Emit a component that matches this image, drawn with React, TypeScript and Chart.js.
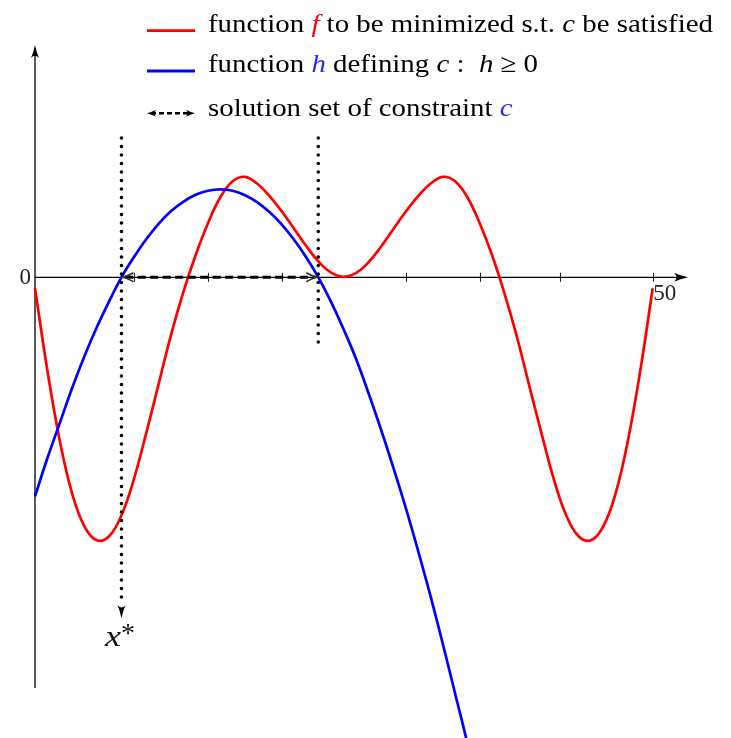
import { useEffect, useRef } from "react";
import { Chart, registerables } from "chart.js";

Chart.register(...registerables);

// f: objective to be minimized
const fX = [0, 1, 2, 3, 4, 5, 6, 7, 8, 9, 10, 11, 12, 13, 14, 15, 16, 17, 18, 19, 20, 21, 22, 23, 24, 25,
  26, 27, 28, 29, 30, 31, 32, 33, 34, 35, 36, 37, 38, 39, 40, 41, 42, 43, 44, 45, 46, 47, 48, 49, 50];
const fY = [-1.1, -9.3, -16.3, -21.6, -24.9, -26.3, -25.9, -23.8, -20.2, -15.6, -10.7, -5.8, -1.5, 2.2, 5.4, 8.0, 9.6, 10.05, 9.35, 8.1, 6.55, 4.8, 3.05, 1.5, 0.45, 0.05,
  0.45, 1.5, 3.05, 4.8, 6.55, 8.1, 9.35, 10.05, 9.6, 8.0, 5.4, 2.2, -1.6, -5.9, -10.8, -15.6, -20.2, -23.8, -25.9, -26.3, -24.9, -21.6, -16.3, -9.3, -1.1];

// h: constraint function, c is satisfied where h >= 0
const hX = [0, 1, 2, 3, 4, 5, 6, 7, 8, 9, 10, 11, 12, 13, 14, 15, 16, 17, 18, 19, 20, 21, 22, 23, 24, 25, 26, 27, 28, 29, 30, 31, 32, 33, 34, 35, 36];
const hY = [-21.9, -18.1, -14.6, -11.1, -7.9, -5.0, -2.4, 0, 2.0, 3.8, 5.35, 6.6, 7.55, 8.25, 8.65, 8.8, 8.65, 8.2, 7.5, 6.5, 5.25, 3.7, 1.9, -0.15, -2.55, -5.25, -8.2, -11.6, -15.2, -19.0, -23.0, -27.3, -31.8, -36.6, -41.6, -46.6, -52.0];

// feasible interval [lo, hi] and the constrained minimizer x*
const solutionSet = [7.0, 22.93];
const xStar = 7.0;

// axis decorations
const xTicks = [8, 14, 20, 30, 36, 42.5, 50];
const xTickLabel = "50";
const xTickLabelAt = 50;
const yZeroLabel = "0";

// view window in data units
const X_MIN = -2.833;
const X_MAX = 56.338;
const Y_MIN = -46.07;
const Y_MAX = 27.73;
const X_AXIS_END = 52.86;
const Y_AXIS_TOP = 23.23;
const Y_AXIS_BOTTOM = -41.07;
const DOT_TOP = 13.93;
const DOT_LEFT_END = -32.4;
const DOT_LEFT_TIP = -34.1;
const DOT_RIGHT_END = -6.6;

const RED = "#ff0000";
const BLUE = "#0000ff";
const TEXT_BLUE = "#2a2aff";
const SERIF = '"Liberation Serif", "Times New Roman", serif';

type Seg = { t: string; it?: boolean; c?: string };

function stealth(ctx: CanvasRenderingContext2D, x: number, y: number, ang: number, len: number, half: number, color: string) {
  ctx.save();
  ctx.translate(x, y);
  ctx.rotate(ang);
  ctx.beginPath();
  ctx.moveTo(0, 0);
  ctx.quadraticCurveTo(-len * 0.55, -half * 0.35, -len, -half);
  ctx.quadraticCurveTo(-len * 0.65, 0, -len, half);
  ctx.quadraticCurveTo(-len * 0.55, half * 0.35, 0, 0);
  ctx.closePath();
  ctx.fillStyle = color;
  ctx.fill();
  ctx.restore();
}

function chevron(ctx: CanvasRenderingContext2D, x: number, y: number, ang: number, len: number, half: number, color: string, w: number) {
  ctx.save();
  ctx.translate(x, y);
  ctx.rotate(ang);
  ctx.beginPath();
  ctx.moveTo(-len, -half);
  ctx.quadraticCurveTo(-len * 0.4, -half * 0.2, 0, 0);
  ctx.quadraticCurveTo(-len * 0.4, half * 0.2, -len, half);
  ctx.strokeStyle = color;
  ctx.lineWidth = w;
  ctx.stroke();
  ctx.restore();
}

function richText(ctx: CanvasRenderingContext2D, x: number, baseline: number, segs: Seg[], size: number, sx: number) {
  ctx.save();
  ctx.translate(x, baseline);
  ctx.scale(sx, 1);
  ctx.textBaseline = "alphabetic";
  ctx.textAlign = "left";
  let cx = 0;
  for (const s of segs) {
    ctx.font = `${s.it ? "italic " : ""}${size}px ${SERIF}`;
    ctx.fillStyle = s.c || "#000";
    ctx.fillText(s.t, cx, 0);
    cx += ctx.measureText(s.t).width;
  }
  ctx.restore();
}

const legendRows: { seg: Seg[]; base: number; mark: number; kind: string }[] = [
  {
    seg: [{ t: "function " }, { t: "f", it: true, c: RED }, { t: " to be minimized s.t. " }, { t: "c", it: true }, { t: " be satisfied" }],
    base: 32, mark: 30.7, kind: "f",
  },
  {
    seg: [{ t: "function " }, { t: "h", it: true, c: TEXT_BLUE }, { t: " defining " }, { t: "c", it: true }, { t: " :  " }, { t: "h", it: true }, { t: " \u2265 0" }],
    base: 72, mark: 71, kind: "h",
  },
  {
    seg: [{ t: "solution set of constraint " }, { t: "c", it: true, c: TEXT_BLUE }],
    base: 116, mark: 113.3, kind: "set",
  },
];

const decor = {
  id: "decor",
  beforeDatasetsDraw(chart: any) {
    const ctx: CanvasRenderingContext2D = chart.ctx;
    const xs = chart.scales.x;
    const ys = chart.scales.y;
    const x0 = xs.getPixelForValue(0);
    const y0 = ys.getPixelForValue(0);
    ctx.save();
    ctx.strokeStyle = "#000";
    ctx.lineWidth = 1.3;
    // y axis
    ctx.beginPath();
    ctx.moveTo(x0, ys.getPixelForValue(Y_AXIS_BOTTOM));
    ctx.lineTo(x0, ys.getPixelForValue(Y_AXIS_TOP) + 6);
    ctx.stroke();
    // x axis
    ctx.beginPath();
    ctx.moveTo(x0, y0);
    ctx.lineTo(xs.getPixelForValue(X_AXIS_END) - 6, y0);
    ctx.stroke();
    // ticks
    ctx.strokeStyle = "#222";
    ctx.lineWidth = 1.1;
    for (const t of xTicks) {
      const px = Math.round(xs.getPixelForValue(t)) + 0.5;
      ctx.beginPath();
      ctx.moveTo(px, y0 - 4.5);
      ctx.lineTo(px, y0 + 4.5);
      ctx.stroke();
    }
    stealth(ctx, x0, ys.getPixelForValue(Y_AXIS_TOP), -Math.PI / 2, 13, 4, "#000");
    stealth(ctx, xs.getPixelForValue(X_AXIS_END), y0, 0, 14, 4.5, "#000");
    // axis labels
    ctx.fillStyle = "#222";
    ctx.font = `23px ${SERIF}`;
    ctx.textAlign = "right";
    ctx.textBaseline = "middle";
    ctx.fillText(yZeroLabel, x0 - 4, y0 + 1);
    ctx.textAlign = "left";
    ctx.textBaseline = "top";
    ctx.fillText(xTickLabel, xs.getPixelForValue(xTickLabelAt) + 0.5, y0 + 5);
    ctx.restore();
  },
  afterDatasetsDraw(chart: any) {
    const ctx: CanvasRenderingContext2D = chart.ctx;
    const xs = chart.scales.x;
    const ys = chart.scales.y;
    const y0 = ys.getPixelForValue(0);
    ctx.save();
    // ends of the feasible interval
    chevron(ctx, xs.getPixelForValue(solutionSet[0]) + 1, y0, Math.PI, 11, 4.5, "#333", 1.6);
    chevron(ctx, xs.getPixelForValue(solutionSet[1]) - 1, y0, 0, 11, 4.5, "#333", 1.6);
    // x* marker arrow
    stealth(ctx, xs.getPixelForValue(xStar), ys.getPixelForValue(DOT_LEFT_TIP), Math.PI / 2, 13, 4, "#000");
    // x* label
    ctx.fillStyle = "#111";
    ctx.save();
    ctx.translate(105, 646);
    ctx.scale(1.2, 1);
    ctx.font = `italic 30px ${SERIF}`;
    ctx.textBaseline = "alphabetic";
    ctx.fillText("x", 0, 0);
    ctx.restore();
    ctx.font = `28px ${SERIF}`;
    ctx.fillText("*", 121, 642);

    // legend
    for (const row of legendRows) {
      if (row.kind === "set") {
        ctx.strokeStyle = "#000";
        ctx.lineWidth = 2.6;
        ctx.setLineDash([5, 3]);
        ctx.beginPath();
        ctx.moveTo(151, row.mark);
        ctx.lineTo(191, row.mark);
        ctx.stroke();
        ctx.setLineDash([]);
        stealth(ctx, 147, row.mark, Math.PI, 9, 3.5, "#000");
        stealth(ctx, 195, row.mark, 0, 9, 3.5, "#000");
      } else {
        ctx.strokeStyle = row.kind === "f" ? RED : BLUE;
        ctx.lineWidth = 2.8;
        ctx.beginPath();
        ctx.moveTo(147, row.mark);
        ctx.lineTo(195, row.mark);
        ctx.stroke();
      }
      richText(ctx, 208, row.base, row.seg, 26, 1.11);
    }
    ctx.restore();
  },
};

export default function App() {
  const ref = useRef<HTMLCanvasElement | null>(null);

  useEffect(() => {
    const canvas = ref.current;
    if (!canvas) return;
    const pts = (xa: number[], ya: number[]) => xa.map((x, i) => ({ x, y: ya[i] }));
    const chart = new Chart(canvas, {
      type: "line",
      data: {
        datasets: [
          {
            label: "x* marker",
            data: [{ x: xStar, y: DOT_TOP }, { x: xStar, y: DOT_LEFT_END }],
            borderColor: "#000",
            borderWidth: 3.6,
            borderDash: [0, 8.5],
            borderCapStyle: "round",
            pointRadius: 0,
            tension: 0,
          },
          {
            label: "upper bound",
            data: [{ x: solutionSet[1], y: DOT_TOP }, { x: solutionSet[1], y: DOT_RIGHT_END }],
            borderColor: "#000",
            borderWidth: 3.6,
            borderDash: [0, 8.5],
            borderCapStyle: "round",
            pointRadius: 0,
            tension: 0,
          },
          {
            label: "solution set",
            data: [{ x: solutionSet[0] + 0.3, y: 0 }, { x: solutionSet[1] - 0.3, y: 0 }],
            borderColor: "#000",
            borderWidth: 3,
            borderDash: [8, 4.5],
            pointRadius: 0,
            tension: 0,
          },
          {
            label: "h",
            data: pts(hX, hY),
            borderColor: BLUE,
            borderWidth: 2.7,
            pointRadius: 0,
            tension: 0.4,
          },
          {
            label: "f",
            data: pts(fX, fY),
            borderColor: RED,
            borderWidth: 2.7,
            pointRadius: 0,
            tension: 0.4,
          },
        ],
      },
      options: {
        animation: false,
        responsive: false,
        devicePixelRatio: 1,
        events: [],
        layout: { padding: 0 },
        scales: {
          x: { type: "linear", min: X_MIN, max: X_MAX, display: false },
          y: { type: "linear", min: Y_MIN, max: Y_MAX, display: false },
        },
        plugins: { legend: { display: false }, tooltip: { enabled: false } },
      },
      plugins: [decor],
    } as any);
    return () => chart.destroy();
  }, []);

  return (
    <div style={{ position: "fixed", left: 0, top: 0, width: 731, height: 738, background: "#fff" }}>
      <canvas ref={ref} width={731} height={738} style={{ display: "block" }} />
    </div>
  );
}
